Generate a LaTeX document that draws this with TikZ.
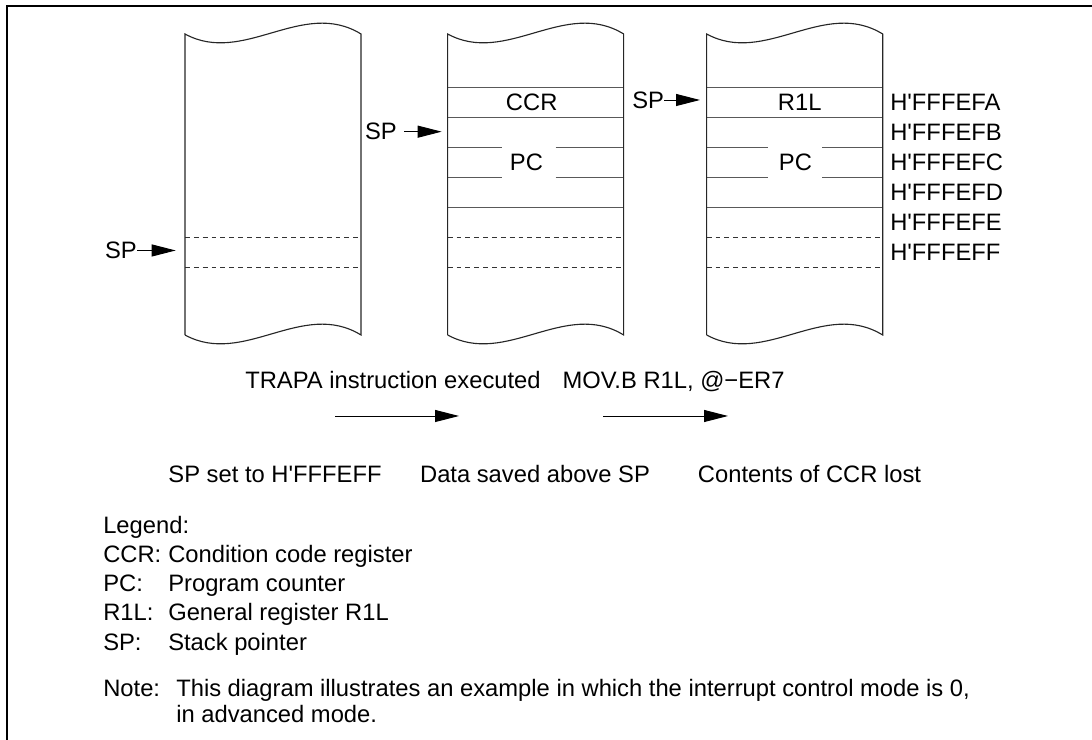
\documentclass[tikz,border=0pt]{standalone}
\usepackage{fontspec}
\setmainfont{Liberation Sans}
\usetikzlibrary{arrows.meta}
\newcommand\lblfont{\fontsize{16.9}{20}\selectfont}
\newcommand\hq{H\textquotesingle}
\tikzset{
  colline/.style={line width=0.8pt, black!85},
  rowline/.style={line width=0.7pt, black!65},
  dashline/.style={line width=0.7pt, black!80, dash pattern=on 3.5pt off 2.8pt},
  lbl/.style={inner sep=0pt, font=\lblfont},
  spptr/.style={line width=0.7pt, -{Triangle[length=0.6cm,width=0.3cm]}},
}

\begin{document}
\begin{tikzpicture}
\useasboundingbox (0,0) rectangle (27.300,18.500);
\draw[line width=1.4pt] (0.175,0) -- (0.175,18.350) -- (27.300,18.350);
\begin{scope}[shift={(4.625,10.125)}]
\draw[dashline] (0,2.450) -- (4.400,2.450);
\draw[dashline] (0,1.700) -- (4.400,1.700);
\draw[colline] (0,0) -- (0,7.525) .. controls (1.467,6.725) and (2.933,8.425) .. (4.400,7.525) -- (4.400,0) .. controls (2.933,0.900) and (1.467,-0.800) .. (0,0);
\end{scope}
\begin{scope}[shift={(11.192,10.125)}]
\draw[rowline] (0,6.200) -- (4.400,6.200);
\draw[rowline] (0,5.450) -- (4.400,5.450);
\draw[rowline] (0,4.700) -- (1.350,4.700);
\draw[rowline] (2.700,4.700) -- (4.400,4.700);
\draw[rowline] (0,3.950) -- (1.350,3.950);
\draw[rowline] (2.700,3.950) -- (4.400,3.950);
\draw[rowline] (0,3.200) -- (4.400,3.200);
\draw[dashline] (0,2.450) -- (4.400,2.450);
\draw[dashline] (0,1.700) -- (4.400,1.700);
\draw[colline] (0,0) -- (0,7.525) .. controls (1.467,6.725) and (2.933,8.425) .. (4.400,7.525) -- (4.400,0) .. controls (2.933,0.900) and (1.467,-0.800) .. (0,0);
\node[lbl] (ccr2) at (2.100,5.825) {CCR};
\node[lbl] (pc2) at (1.970,4.325) {PC};
\end{scope}
\begin{scope}[shift={(17.667,10.125)}]
\draw[rowline] (0,6.200) -- (4.400,6.200);
\draw[rowline] (0,5.450) -- (4.400,5.450);
\draw[rowline] (0,4.700) -- (1.525,4.700);
\draw[rowline] (2.890,4.700) -- (4.400,4.700);
\draw[rowline] (0,3.950) -- (1.525,3.950);
\draw[rowline] (2.890,3.950) -- (4.400,3.950);
\draw[rowline] (0,3.200) -- (4.400,3.200);
\draw[dashline] (0,2.450) -- (4.400,2.450);
\draw[dashline] (0,1.700) -- (4.400,1.700);
\draw[colline] (0,0) -- (0,7.525) .. controls (1.467,6.725) and (2.933,8.425) .. (4.400,7.525) -- (4.400,0) .. controls (2.933,0.900) and (1.467,-0.800) .. (0,0);
\node[lbl] (r1l3) at (2.325,5.825) {R1L};
\node[lbl] (pc3) at (2.220,4.325) {PC};
\node[lbl, anchor=west] (adrA) at (4.583,5.825) {\hq FFFEFA};
\node[lbl, anchor=west] (adrB) at (4.583,5.075) {\hq FFFEFB};
\node[lbl, anchor=west] (adrC) at (4.583,4.325) {\hq FFFEFC};
\node[lbl, anchor=west] (adrD) at (4.583,3.575) {\hq FFFEFD};
\node[lbl, anchor=west] (adrE) at (4.583,2.825) {\hq FFFEFE};
\node[lbl, anchor=west] (adrF) at (4.583,2.075) {\hq FFFEFF};
\end{scope}
\node[lbl, anchor=east] (sp1) at (3.425,12.238) {SP};
\coordinate (tip1) at (4.393,12.238);
\draw[spptr] (sp1.east) -- (tip1);
\node[lbl, anchor=east] (sp2) at (9.925,15.208) {SP};
\coordinate (tip2) at (11.042,15.208);
\draw[spptr, shorten <=0.175cm] (sp2.east) -- (tip2);
\node[lbl, anchor=east] (sp3) at (16.608,16.000) {SP};
\coordinate (tip3) at (17.500,16.000);
\draw[spptr] (sp3.east) -- (tip3);
\node[lbl, anchor=base] (trapa) at (9.825,8.775) {TRAPA instruction executed};
\node[lbl, anchor=base] (movb) at (16.838,8.775) {MOV.B R1L, @−ER7};
\coordinate (stepA1) at (8.375,8.100);
\coordinate (stepA2) at (11.475,8.100);
\coordinate (stepB1) at (15.075,8.100);
\coordinate (stepB2) at (18.200,8.100);
\draw[spptr] (stepA1) -- (stepA2);
\draw[spptr] (stepB1) -- (stepB2);
\node[lbl, anchor=base] (res1) at (6.875,6.425) {SP set to \hq FFFEFF};
\node[lbl, anchor=base] (res2) at (13.375,6.425) {Data saved above SP};
\node[lbl, anchor=base] (res3) at (20.238,6.425) {Contents of CCR lost};
\node[lbl, anchor=base west] (leg) at (2.575,5.150) {Legend:};
\node[lbl, anchor=base west] (legccr) at (2.575,4.425) {CCR:};
\node[lbl, anchor=base west] (legccrtxt) at (4.200,4.425) {Condition code register};
\node[lbl, anchor=base west] (legpc) at (2.575,3.700) {PC:};
\node[lbl, anchor=base west] (legpctxt) at (4.200,3.700) {Program counter};
\node[lbl, anchor=base west] (legr1l) at (2.575,2.975) {R1L:};
\node[lbl, anchor=base west] (legr1ltxt) at (4.200,2.975) {General register R1L};
\node[lbl, anchor=base west] (legsp) at (2.575,2.225) {SP:};
\node[lbl, anchor=base west] (legsptxt) at (4.200,2.225) {Stack pointer};
\node[lbl, anchor=base west] (note) at (2.575,1.075) {Note:};
\node[lbl, anchor=base west] (notetxt1) at (4.400,1.075) {This diagram illustrates an example in which the interrupt control mode is 0,};
\node[lbl, anchor=base west] (notetxt2) at (4.400,0.425) {in advanced mode.};
\end{tikzpicture}
\end{document}
